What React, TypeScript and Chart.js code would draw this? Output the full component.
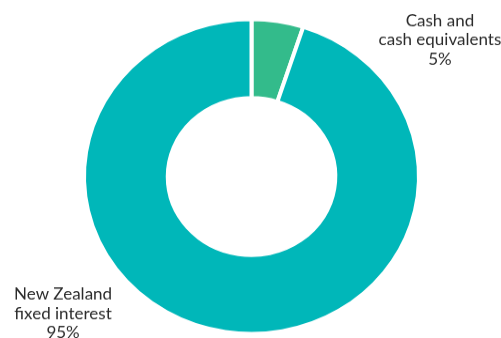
import React, { useEffect, useRef } from "react";
import { Chart, registerables } from "chart.js";

Chart.register(...registerables);

// ---- Data ----
const categories = ["Cash and cash equivalents", "New Zealand fixed interest"];
const labelLines = [
  ["Cash and", "cash equivalents"],
  ["New Zealand", "fixed interest"],
];
const values = [5, 95];
const colors = ["#33BB8B", "#00B7B9"];

// internal drawing size (the reference is squashed vertically into 338px)
const W = 501;
const H = 360;
const DISPLAY_H = 338;

const outLabels = {
  id: "outLabels",
  afterDatasetsDraw(chart: any) {
    const ctx = chart.ctx;
    const meta = chart.getDatasetMeta(0);
    const total = values.reduce((a, b) => a + b, 0);
    ctx.save();
    ctx.font = "17px Lato, 'Noto Sans', sans-serif";
    ctx.fillStyle = "#2b2b2b";
    ctx.textAlign = "center";
    ctx.textBaseline = "alphabetic";
    meta.data.forEach((arc: any, i: number) => {
      const p = arc.getProps(["x", "y", "startAngle", "endAngle", "outerRadius"], true);
      const mid = (p.startAngle + p.endAngle) / 2 + (43.5 * Math.PI) / 180;
      const d = p.outerRadius * 1.418;
      const s = Math.sin(mid);
      const lx = p.x + Math.cos(mid) * d;
      const ly = p.y + s * d + Math.sign(s) * 1.2;
      const lines = [...labelLines[i], Math.round((values[i] / total) * 100) + "%"];
      const lh = 20.6;
      lines.forEach((t, j) => ctx.fillText(t, lx, ly + 6 + (j - 1) * lh));
    });
    ctx.restore();
  },
};

export default function App() {
  const ref = useRef<HTMLCanvasElement | null>(null);

  useEffect(() => {
    let chart: Chart | null = null;
    let cancelled = false;
    const make = () => {
      if (cancelled || !ref.current) return;
      chart = new Chart(ref.current, {
        type: "doughnut",
        data: {
          labels: categories,
          datasets: [
            {
              data: values,
              backgroundColor: colors,
              borderColor: "#ffffff",
              borderWidth: 4,
            },
          ],
        },
        options: {
          animation: false,
          responsive: false,
          maintainAspectRatio: false,
          devicePixelRatio: 1,
          cutout: "50%",
          layout: { padding: { left: 82, right: 80, top: 18.5, bottom: 2.5 } },
          plugins: {
            legend: { display: false },
            tooltip: { enabled: false },
          },
        },
        plugins: [outLabels],
      });
    };
    const fonts: any = (document as any).fonts;
    if (fonts && fonts.load) {
      fonts.load("17px Lato").then(make, make);
    } else {
      make();
    }
    return () => {
      cancelled = true;
      if (chart) chart.destroy();
    };
  }, []);

  return (
    <div style={{ position: "absolute", left: 0, top: 0, width: W, height: DISPLAY_H, overflow: "hidden", background: "#fff" }}>
      <canvas
        ref={ref}
        width={W}
        height={H}
        style={{ width: W + "px", height: DISPLAY_H + "px", display: "block" }}
      />
    </div>
  );
}
